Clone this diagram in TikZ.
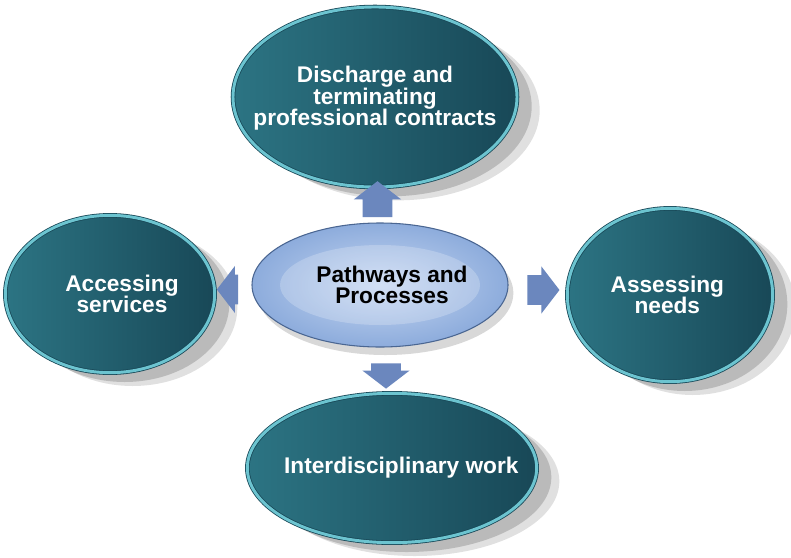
\documentclass[tikz,border=0pt]{standalone}
\usepackage{fontspec}
\setmainfont{Liberation Sans}
\usepackage{tikz}
\usetikzlibrary{shapes.geometric,shapes.arrows,shadows,calc,positioning}

\definecolor{tealA}{HTML}{2C7483}
\definecolor{tealB}{HTML}{184857}
\definecolor{tealrim}{HTML}{6CC4D0}
\definecolor{hubA}{HTML}{C6D7F2}
\definecolor{hubB}{HTML}{8DACDC}
\definecolor{hubrim}{HTML}{4A6692}
\definecolor{arrowblue}{HTML}{6B87BE}

\begin{document}
\begin{tikzpicture}[x=0.75pt,y=-0.75pt,
  task/.style={ellipse, inner sep=0pt,
    left color=tealA, right color=tealB,
    draw=tealB, line width=.6pt, double=tealrim, double distance=2.2pt,
    general shadow={shadow xshift=17pt, shadow yshift=-10pt, opacity=.12, fill=black},
    drop shadow={shadow xshift=11pt, shadow yshift=-7pt, opacity=.25, fill=black!70}},
  hub/.style={ellipse, inner sep=0pt,
    inner color=hubA, outer color=hubB, draw=hubrim, line width=.8pt,
    drop shadow={shadow xshift=4pt, shadow yshift=-6pt, opacity=.25, fill=black!60},
    path picture={\fill[white, opacity=.22] (path picture bounding box.center) ellipse [x radius=75pt, y radius=30pt];}},
  tasktext/.style={align=center, text=white, inner sep=0pt,
    font=\fontsize{17}{16}\selectfont\bfseries},
  hubtext/.style={tasktext, text=black},
  blockarrow/.style={single arrow, fill=arrowblue, draw=none, inner xsep=0pt,
    inner ysep=11pt, single arrow head extend=6.5pt, single arrow tip angle=105}
]
\path[fill=white] (0,0) rectangle (791,557);
\useasboundingbox (0,0) rectangle (791,557);

\node[hub, minimum width=192pt, minimum height=93pt] (hub) at (380,285) {};

\node[task, minimum width=213pt, minimum height=135pt] (top) at (375,97) {};
\node[task, minimum width=157pt, minimum height=118pt] (left) at (110,294) {};
\node[task, minimum width=154pt, minimum height=130pt] (right) at (670,295) {};
\node[task, minimum width=217pt, minimum height=112pt] (bottom) at (392,468) {};

% texts
\node[hubtext] (hubText) at ([xshift=9pt]hub) {Pathways and\\Processes};
\node[tasktext] (topText) at ([yshift=-1pt]top) {Discharge and\\terminating\\professional contracts};
\node[tasktext] (leftText) at ([xshift=9pt]left) {Accessing\\services};
\node[tasktext] (rightText) at ([xshift=-2pt]right) {Assessing\\needs};
\node[tasktext] (bottomText) at ([xshift=7pt]bottom) {Interdisciplinary work};

\node[blockarrow, minimum height=27pt, rotate=90] (toTop) at ($(hub.north)!.5!(top.south)$) {};
\node[blockarrow, minimum height=24pt] (toRight) at ($(hub.east)!.5!(right.west)$) {};
\node[blockarrow, minimum height=16pt, rotate=180] (toLeft) at ($(hub.west)!.5!(left.east)$) {};
\node[blockarrow, minimum height=19pt, rotate=-90] (toBottom) at ($(hub.south)!.5!(bottom.north)$) {};
\end{tikzpicture}
\end{document}
